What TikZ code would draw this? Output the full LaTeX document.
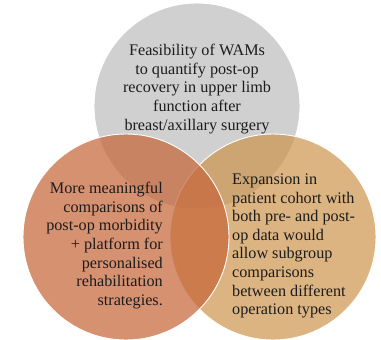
\documentclass[tikz,border=0pt]{standalone}
\usepackage{fontspec}
\setmainfont{Liberation Serif}
\definecolor{greyCircle}{RGB}{208,208,208}
\definecolor{rustCircle}{RGB}{198,102,58}
\definecolor{sandCircle}{RGB}{205,148,76}
\definecolor{inkText}{RGB}{28,28,28}

\begin{document}
\begin{tikzpicture}
[x=1pt,y=-1pt,%
  circleDecorate/.style={shape=circle,minimum size=206pt,inner sep=0pt,draw=white,line width=0.9pt},
  textDecorate/.style={inner sep=0pt,text=inkText,font=\rmfamily\fontsize{16.2}{18.6}\selectfont}]
\useasboundingbox (0,0) rectangle (381,340);
%% circles
\foreach \nodename/\x/\y/\colour/\op in {
  top/197/106/greyCircle/1,
  right/273/237/sandCircle/0.7,
  left/126/237/rustCircle/0.72}
{
  \node (\nodename) at (\x,\y) [circleDecorate,fill=\colour,fill opacity=\op] {};
}
%% labels
\node (topText) at (197,89) [textDecorate,align=center]
  {Feasibility of WAMs\\ to quantify post-op\\ recovery in upper limb\\
   function after\\ breast/axillary surgery};
\node (leftText) at (163,245.5) [textDecorate,align=right,anchor=east]
  {More meaningful\\ comparisons of\\ post-op morbidity\\ + platform for\\
   personalised\\ rehabilitation\\ strategies.};
\node (rightText) at (232,246) [textDecorate,align=left,anchor=west]
  {Expansion in\\ patient cohort with\\ both pre- and post-\\ op data would\\
   allow subgroup\\ comparisons\\ between different\\ operation types};
\end{tikzpicture}
\end{document}
